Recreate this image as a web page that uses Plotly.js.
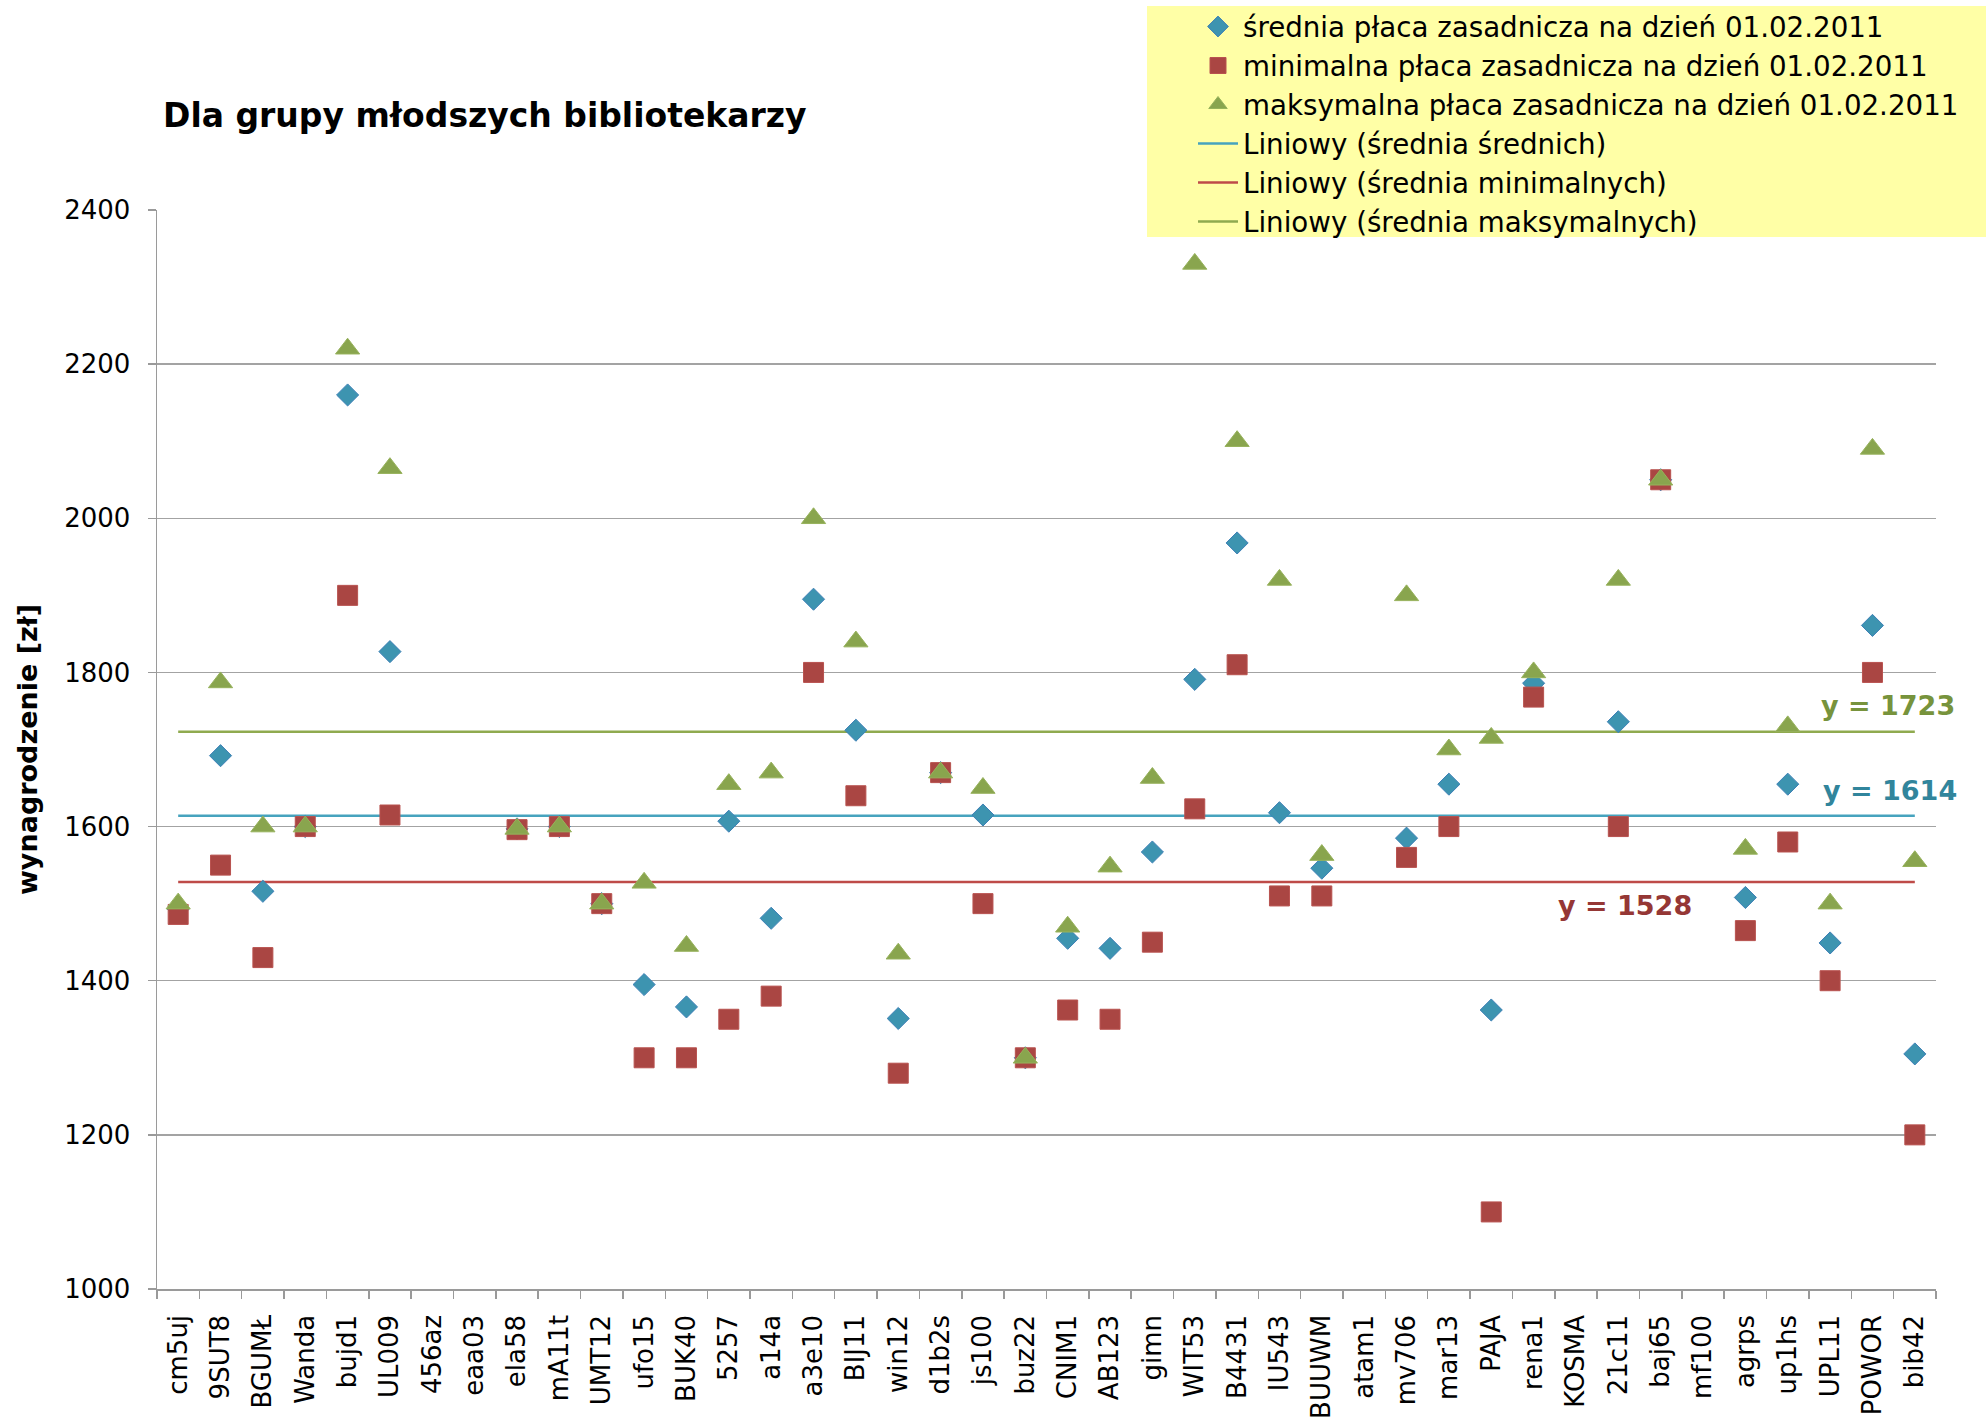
<!DOCTYPE html>
<html>
<head>
<meta charset="utf-8">
<script src="https://cdn.plot.ly/plotly-3.0.1.min.js"></script>
<style>html,body{margin:0;padding:0;background:#fff;}#chart{width:1986px;height:1424px;}</style>
</head>
<body>
<div id="chart"></div>
<script>
const categories = ['cm5uj','9SUT8','BGUMŁ','Wanda','bujd1','UL009','456az','eaa03','ela58','mA11t','UMT12','ufo15','BUK40','5257','a14a','a3e10','BIJ11','win12','d1b2s','js100','buz22','CNIM1','AB123','gimn','WIT53','B4431','IU543','BUUWM','atam1','mv706','mar13','PAJA','rena1','KOSMA','21c11','baj65','mf100','agrps','up1hs','UPL11','POWOR','bib42'];

const avgPay = [1493,1692,1516,1600,2160,1827,null,null,1597,1600,1500,1395,1366,1607,1481,1895,1725,1351,1670,1615,1300,1455,1442,1567,1791,1968,1618,1546,null,1585,1655,1362,1786,null,1736,2050,null,1508,1655,1449,1861,1305];

const minPay = [1486,1550,1430,1600,1900,1615,null,null,1596,1600,1500,1300,1300,1350,1380,1800,1640,1280,1670,1500,1300,1362,1350,1450,1623,1810,1510,1510,null,1560,1600,1100,1768,null,1600,2050,null,1465,1580,1400,1800,1200];

const maxPay = [1500,1787,1600,1600,2220,2065,null,null,1597,1600,1500,1527,1445,1655,1670,2000,1840,1435,1670,1650,1300,1470,1548,1663,2330,2100,1920,1563,null,1900,1700,1715,1800,null,1920,2050,null,1571,1730,1500,2090,1555];

const trendAvg = 1614;
const trendMin = 1528;
const trendMax = 1723;

const seriesNames = [
  'średnia płaca zasadnicza na dzień 01.02.2011',
  'minimalna płaca zasadnicza na dzień 01.02.2011',
  'maksymalna płaca zasadnicza na dzień 01.02.2011',
  'Liniowy (średnia średnich)',
  'Liniowy (średnia minimalnych)',
  'Liniowy (średnia maksymalnych)'
];

const FONT = 'DejaVu Sans, Verdana, sans-serif';
const lineEnds = [categories[0], categories[categories.length - 1]];

const data = [
  {type:'scatter', mode:'lines', name:seriesNames[3], legendrank:4, x:lineEnds, y:[trendAvg,trendAvg],
   line:{color:'#46A3BE', width:2.5}, hoverinfo:'skip'},
  {type:'scatter', mode:'lines', name:seriesNames[4], legendrank:5, x:lineEnds, y:[trendMin,trendMin],
   line:{color:'#BE4B48', width:2.5}, hoverinfo:'skip'},
  {type:'scatter', mode:'lines', name:seriesNames[5], legendrank:6, x:lineEnds, y:[trendMax,trendMax],
   line:{color:'#8FAA4F', width:2.5}, hoverinfo:'skip'},
  {type:'scatter', mode:'markers', name:seriesNames[0], legendrank:1, x:categories, y:avgPay,
   marker:{symbol:'diamond', size:17, color:'#3D94B0', line:{color:'#3E80B6', width:1}}},
  {type:'scatter', mode:'markers', name:seriesNames[1], legendrank:2, x:categories, y:minPay,
   marker:{symbol:'square', size:20, color:'#AA4643', line:{color:'#B8524F', width:1}}},
  {type:'scatter', mode:'markers', name:seriesNames[2], legendrank:3, x:categories, y:maxPay,
   marker:{symbol:'triangle-up', size:21, color:'#89A54E', line:{color:'#97B25C', width:1}}}
];

const layout = {
  width:1986, height:1424,
  paper_bgcolor:'#ffffff', plot_bgcolor:'#ffffff',
  font:{family:FONT, size:26, color:'#000000'},
  margin:{l:157, r:50, t:210, b:135, pad:0, autoexpand:false},
  title:{text:'<b>Dla grupy młodszych bibliotekarzy</b>', x:163/1986, xanchor:'left', xref:'container',
         y:1-115/1424, yanchor:'middle', yref:'container', font:{family:FONT, size:33, color:'#000'}},
  showlegend:true,
  legend:{x:(1193-157)/1779, xanchor:'left', y:(1289-2)/1079, yanchor:'top', bgcolor:'rgba(0,0,0,0)',
          borderwidth:0, font:{family:FONT, size:27.7, color:'#000'}, tracegroupgap:0, itemwidth:40},
  xaxis:{type:'category', categoryorder:'array', categoryarray:categories, range:[-0.5, categories.length-0.5],
         showgrid:false, zeroline:false, showline:true, linecolor:'#9a9a9a', linewidth:1.5,
         ticks:'outside', tickson:'boundaries', ticklen:8, tickcolor:'#9a9a9a', tickwidth:1.5,
         tickangle:-90, tickfont:{family:FONT, size:26, color:'#000'}, ticklabelstandoff:14, fixedrange:true},
  yaxis:{range:[1000,2400], dtick:200, tick0:1000, showgrid:true, gridcolor:'#a3a3a3', gridwidth:1.5,
         zeroline:false, showline:true, linecolor:'#9a9a9a', linewidth:1.5,
         ticks:'outside', ticklen:8, tickcolor:'#9a9a9a', tickwidth:1.5,
         tickfont:{family:FONT, size:26, color:'#000'}, ticklabelstandoff:12,
         title:{text:'<b>wynagrodzenie [zł]</b>', font:{family:FONT, size:27, color:'#000'}, standoff:18},
         fixedrange:true},
  shapes:[
    {type:'rect', xref:'paper', yref:'paper', layer:'above',
     x0:(1147-157)/1779, x1:(1986-157)/1779, y0:(1289-237)/1079, y1:(1289-6)/1079,
     fillcolor:'#FFFFA6', line:{width:0}}
  ],
  annotations:[
    {text:'<b>y = 1723</b>', xref:'paper', yref:'y', x:(1888-157)/1779, y:1757, xanchor:'center', yanchor:'middle',
     showarrow:false, font:{family:FONT, size:27, color:'#77933C'}},
    {text:'<b>y = 1614</b>', xref:'paper', yref:'y', x:(1890-157)/1779, y:1647, xanchor:'center', yanchor:'middle',
     showarrow:false, font:{family:FONT, size:27, color:'#31859C'}},
    {text:'<b>y = 1528</b>', xref:'paper', yref:'y', x:(1625-157)/1779, y:1498, xanchor:'center', yanchor:'middle',
     showarrow:false, font:{family:FONT, size:27, color:'#953735'}}
  ]
};

Plotly.newPlot('chart', data, layout, {displayModeBar:false, staticPlot:true});
</script>
</body>
</html>
